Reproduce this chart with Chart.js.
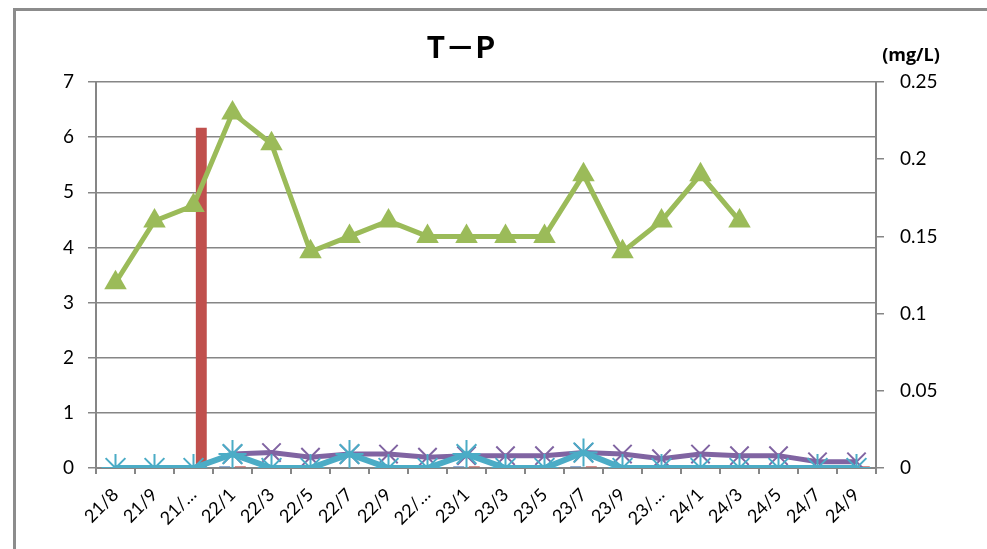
<!DOCTYPE html>
<html>
<head>
<meta charset="utf-8">
<script src="https://cdn.jsdelivr.net/npm/chart.js@4"></script>
<style>
  html, body { margin: 0; padding: 0; background: #fff; }
  #wrap { position: relative; width: 987px; height: 549px; overflow: hidden; }
  #frame { position: absolute; left: 13px; top: 8px; width: 1100px; height: 700px;
           border-top: 3px solid #8c8c8c; border-left: 3px solid #8c8c8c; box-sizing: border-box; }
  canvas { position: absolute; left: 0; top: 0; }
</style>
</head>
<body>
<div id="wrap">
  <div id="frame"></div>
  <canvas id="tpChart" width="987" height="549"></canvas>
</div>
<script>
// categories (year/month)
const labels = ['21/8', '21/9', '21/…', '22/1', '22/3', '22/5', '22/7', '22/9', '22/…', '23/1',
                '23/3', '23/5', '23/7', '23/9', '23/…', '24/1', '24/3', '24/5', '24/7', '24/9'];

// left axis (bars)
const barBlue = [0, 0, 0, 0.03, 0, 0, 0, 0, 0, 0.03, 0, 0, 0.03, 0, 0, 0, 0, 0, 0, 0];
const barRed  = [0, 0, 6.17, 0.03, 0, 0, 0, 0, 0, 0.03, 0, 0, 0.03, 0, 0, 0, 0, 0, 0, 0.03];

// right axis (mg/L)
const greenTP  = [0.12, 0.16, 0.17, 0.23, 0.21, 0.14, 0.15, 0.16, 0.15, 0.15,
                  0.15, 0.15, 0.19, 0.14, 0.16, 0.19, 0.16, null, null, null];
const purpleTP = [null, null, null, 0.009, 0.010, 0.007, 0.009, 0.009, 0.007, 0.008,
                  0.008, 0.008, 0.010, 0.009, 0.006, 0.009, 0.008, 0.008, 0.004, 0.004];
const cyanTP   = [0, 0, 0, 0.009, 0, 0, 0.009, 0, 0, 0.009,
                  0, 0, 0.010, 0, 0, 0, 0, 0, 0, 0];

const leftTicks = { min: 0, max: 7, step: 1 };
const rightTicks = { min: 0, max: 0.25, step: 0.05 };

const gridColor = '#868686';

// title and unit text drawn on the canvas
const textPlugin = {
    id: 'textPlugin',
    afterDraw(chart) {
        const ctx = chart.ctx;
        ctx.save();
        ctx.fillStyle = '#000';
        ctx.textBaseline = 'middle';
        ctx.textAlign = 'center';
        ctx.font = 'bold 30px "Noto Sans CJK JP"';
        ctx.fillText('T－P', 461, 47);
        ctx.font = 'bold 18px "Open Sans"';
        ctx.fillText('(mg/L)', 911, 56);
        ctx.restore();
    }
};

const ctx = document.getElementById('tpChart').getContext('2d');
new Chart(ctx, {
    type: 'bar',
    data: {
        labels: labels,
        datasets: [
            {
                type: 'line',
                label: 'green',
                data: greenTP,
                yAxisID: 'y2',
                borderColor: '#9bbb59',
                backgroundColor: '#9bbb59',
                borderWidth: 5,
                pointStyle: 'triangle',
                pointRadius: 13,
                pointBorderWidth: 0,
                order: 1,
            },
            {
                type: 'line',
                label: 'cyan',
                data: cyanTP,
                yAxisID: 'y2',
                borderColor: '#4bacc6',
                backgroundColor: '#4bacc6',
                borderWidth: 6,
                pointStyle: 'star',
                pointRadius: 14,
                pointBorderWidth: 2,
                order: 2,
            },
            {
                type: 'line',
                label: 'purple',
                data: purpleTP,
                yAxisID: 'y2',
                borderColor: '#8064a2',
                backgroundColor: '#8064a2',
                borderWidth: 5,
                pointStyle: 'crossRot',
                pointRadius: 13,
                pointBorderWidth: 2,
                order: 3,
            },
            {
                label: 'blue',
                data: barBlue,
                yAxisID: 'y',
                backgroundColor: '#4f81bd',
                categoryPercentage: 0.8,
                barPercentage: 0.7,
                order: 4,
            },
            {
                label: 'red',
                data: barRed,
                yAxisID: 'y',
                backgroundColor: '#c0504d',
                categoryPercentage: 0.8,
                barPercentage: 0.7,
                order: 5,
            },
        ],
    },
    options: {
        responsive: false,
        animation: false,
        layout: { padding: { top: 82, left: 0, right: 0, bottom: 0 } },
        plugins: {
            legend: { display: false },
            tooltip: { enabled: false },
        },
        scales: {
            x: {
                offset: true,
                grid: {
                    offset: true,
                    drawOnChartArea: false,
                    drawTicks: true,
                    tickLength: 6,
                    color: gridColor,
                    lineWidth: 2,
                },
                border: { color: gridColor, width: 2 },
                ticks: {
                    color: '#000',
                    font: { family: 'Lato', size: 18 },
                    minRotation: 45,
                    maxRotation: 45,
                    autoSkip: false,
                    padding: 10,
                },
                afterFit(scale) { scale.height = 81; },
            },
            y: {
                position: 'left',
                min: leftTicks.min,
                max: leftTicks.max,
                ticks: {
                    stepSize: leftTicks.step,
                    color: '#000',
                    font: { family: 'Lato', size: 19 },
                    padding: 14,
                },
                grid: { color: gridColor, lineWidth: 1.5, tickLength: 8 },
                border: { color: gridColor, width: 2 },
                afterFit(scale) { scale.width = 96; },
            },
            y2: {
                position: 'right',
                min: rightTicks.min,
                max: rightTicks.max,
                ticks: {
                    stepSize: rightTicks.step,
                    color: '#000',
                    font: { family: 'Lato', size: 19 },
                    padding: 16,
                    callback: (v) => String(Number(v.toFixed(2))),
                },
                grid: { drawOnChartArea: false, color: gridColor, lineWidth: 1.5, tickLength: 8 },
                border: { color: gridColor, width: 2 },
                afterFit(scale) { scale.width = 111; },
            },
        },
    },
    plugins: [textPlugin],
});
</script>
</body>
</html>
